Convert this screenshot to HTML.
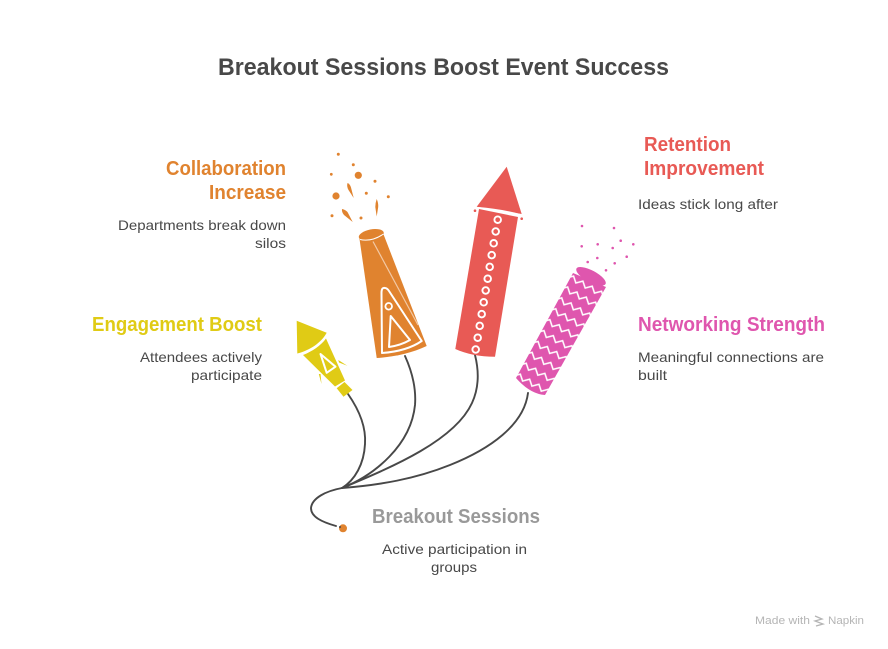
<!DOCTYPE html>
<html><head><meta charset="utf-8"><style>
html,body{margin:0;padding:0;background:#fff}
svg{display:block}
text{font-family:"Liberation Sans",sans-serif}
.t{font-size:14px;fill:#484848}
.h{font-size:20px;font-weight:bold}
</style></head><body>
<svg width="888" height="649" viewBox="0 0 888 649" xmlns="http://www.w3.org/2000/svg">
<defs>
<pattern id="zz" width="10.6" height="12.4" patternUnits="userSpaceOnUse" patternTransform="translate(589 281) rotate(28.5)">
<rect width="10.6" height="12.4" fill="#DF56AE"/>
<polyline points="-5.3,3 0,8 5.3,3 10.6,8 15.9,3" fill="none" stroke="#fff" stroke-width="1.5"/>
</pattern>
</defs>
<rect width="888" height="649" fill="#fff"/>
<text x="218" y="75" font-size="24" font-weight="bold" fill="#484848" textLength="451" lengthAdjust="spacingAndGlyphs">Breakout Sessions Boost Event Success</text>

<!-- connectors -->
<g fill="none" stroke="#484848" stroke-width="1.9" stroke-linecap="round">
<path d="M336 526C322 522 311 517 311 508C312 498 326 491 342 488"/>
<path d="M348 394C362 414 366 430 365 444C364 464 355 480 342 488"/>
<path d="M405 356C414 376 416 392 415 405C411 445 375 475 342 488"/>
<path d="M475 355C480 375 478 390 472 403C455 440 395 466 342 488"/>
<path d="M528 393C524 425 490 449 450 465C415 479 380 485 342 488"/>
</g>
<circle cx="343" cy="528.3" r="4" fill="#E0832F"/>
<circle cx="340" cy="527" r="1" fill="#484848"/>

<!-- yellow rocket -->
<g fill="#E0CB15">
<path d="M296.7 320.7L326.7 332.7C321 343 310 350 297.3 353.5Z"/>
<path d="M303 355C312 351.5 321 345.5 326 338.5L345 380.5L335 386.5Z"/>
<path d="M344.5 382L352.5 390L343.5 396.7L336.7 388.3Z"/>
</g>
<path d="M320.5 354L335.5 366.7L326.7 372.8Z" fill="none" stroke="#fff" stroke-width="2" stroke-linejoin="round"/>
<g fill="#E0CB15"><path d="M338.3 360L347.3 365.7L339 362.5Z"/><path d="M318.8 374L321.5 384L320.5 374Z"/></g>

<!-- orange rocket -->
<path d="M359.5 239L383 233L426.7 346C412 353 394 357 376.7 358Z" fill="#E0832F"/>
<path d="M373 241.5L418 325" stroke="#F2C9A5" stroke-width="1.2" fill="none"/>
<ellipse cx="371.3" cy="235" rx="12.7" ry="5.6" transform="rotate(-11 371.3 235)" fill="#E0832F"/>
<path d="M360 239.5Q372 242 383.500 234" fill="none" stroke="#fff" stroke-width="1"/>
<path d="M381.5 293Q381.5 287 385 288Q387 288 389 291L421.7 341C410 349 396 352 382 353Z" fill="none" stroke="#fff" stroke-width="2" stroke-linejoin="round"/>
<path d="M390.7 316L410 340C403 344 396 346 389 347Z" fill="none" stroke="#fff" stroke-width="2" stroke-linejoin="round"/>
<circle cx="388.7" cy="306.3" r="3.3" fill="none" stroke="#fff" stroke-width="1.8"/>
<g fill="#E0832F">
<circle cx="338.3" cy="154.3" r="1.5"/><circle cx="353.3" cy="164.7" r="1.5"/><circle cx="331.3" cy="174.3" r="1.4"/>
<circle cx="358.3" cy="175.3" r="3.6"/><circle cx="375" cy="181.3" r="1.5"/><circle cx="336" cy="196" r="3.6"/>
<circle cx="366.3" cy="193.3" r="1.5"/><circle cx="388.3" cy="196.7" r="1.5"/><circle cx="332" cy="215.7" r="1.5"/><circle cx="361" cy="218" r="1.5"/>
<path d="M347.5 183Q350 184 351 187.500L353.7 198L348.500 190Q346.500 186.500 347.500 183Z"/>
<path d="M376.7 199Q378.500 203 378.200 207L376.7 216.500L375.300 207Q375.300 203 376.7 199Z"/>
<path d="M342 209Q345 209.500 347.500 212L352.7 222L344 215Q341.500 212 342 209Z"/>
</g>

<!-- red rocket -->
<path d="M506.7 166.7L521.7 214L476.7 206.7Z" fill="#E85A55"/>
<path d="M479 209L518 217L495 356.7C480 356.7 466 354 455.3 349Z" fill="#E85A55"/>
<path d="M478.500 207.800Q500 209.500 521 215" fill="none" stroke="#fff" stroke-width="1.6"/>
<circle cx="475" cy="210.7" r="1.3" fill="#E85A55"/><circle cx="521.7" cy="218.7" r="1.3" fill="#E85A55"/>
<g fill="none" stroke="#fff" stroke-width="1.9">
<circle cx="497.7" cy="219.7" r="3.3"/><circle cx="495.7" cy="231.500" r="3.3"/><circle cx="493.7" cy="243.3" r="3.3"/><circle cx="491.7" cy="255.1" r="3.3"/>
<circle cx="489.7" cy="266.9" r="3.3"/><circle cx="487.7" cy="278.7" r="3.3"/><circle cx="485.7" cy="290.5" r="3.3"/><circle cx="483.7" cy="302.3" r="3.3"/>
<circle cx="481.7" cy="314.1" r="3.3"/><circle cx="479.7" cy="325.9" r="3.3"/><circle cx="477.7" cy="337.7" r="3.3"/><circle cx="475.7" cy="349.5" r="3.3"/>
</g>

<!-- pink rocket -->
<path d="M573 273L606 287L545 395Q530 394 516 378Z" fill="url(#zz)"/>
<ellipse cx="591" cy="276.3" rx="16.5" ry="5.8" transform="rotate(28 591 276.3)" fill="#DF56AE"/>
<g fill="#DF56AE">
<circle cx="582" cy="226" r="1.3"/><circle cx="614" cy="228" r="1.3"/><circle cx="620.7" cy="240.7" r="1.3"/><circle cx="633.3" cy="244.3" r="1.3"/>
<circle cx="597.7" cy="244.3" r="1.3"/><circle cx="581.7" cy="246.3" r="1.3"/><circle cx="612.7" cy="248" r="1.3"/><circle cx="626.7" cy="256.7" r="1.3"/>
<circle cx="597.3" cy="258" r="1.3"/><circle cx="587.7" cy="262" r="1.3"/><circle cx="614.7" cy="263.3" r="1.3"/><circle cx="606" cy="270.3" r="1.3"/>
</g>

<!-- labels -->
<text class="h" x="166" y="175" fill="#E0832F" textLength="120" lengthAdjust="spacingAndGlyphs">Collaboration</text>
<text class="h" x="209" y="199" fill="#E0832F" textLength="77" lengthAdjust="spacingAndGlyphs">Increase</text>
<text class="h" x="92" y="331" fill="#E0CB15" textLength="170" lengthAdjust="spacingAndGlyphs">Engagement Boost</text>
<text class="h" x="644" y="151" fill="#E85A55" textLength="87" lengthAdjust="spacingAndGlyphs">Retention</text>
<text class="h" x="644" y="175" fill="#E85A55" textLength="120" lengthAdjust="spacingAndGlyphs">Improvement</text>
<text class="h" x="638" y="331" fill="#DF56AE" textLength="187" lengthAdjust="spacingAndGlyphs">Networking Strength</text>
<text class="h" x="372" y="523" fill="#999999" textLength="168" lengthAdjust="spacingAndGlyphs">Breakout Sessions</text>
<text class="t" x="118" y="230" textLength="168" lengthAdjust="spacingAndGlyphs">Departments break down</text>
<text class="t" x="255" y="248" textLength="31" lengthAdjust="spacingAndGlyphs">silos</text>
<text class="t" x="140" y="362" textLength="122" lengthAdjust="spacingAndGlyphs">Attendees actively</text>
<text class="t" x="191" y="380" textLength="71" lengthAdjust="spacingAndGlyphs">participate</text>
<text class="t" x="638" y="209" textLength="140" lengthAdjust="spacingAndGlyphs">Ideas stick long after</text>
<text class="t" x="638" y="362" textLength="186" lengthAdjust="spacingAndGlyphs">Meaningful connections are</text>
<text class="t" x="638" y="380" textLength="29" lengthAdjust="spacingAndGlyphs">built</text>
<text class="t" x="382" y="554" textLength="145" lengthAdjust="spacingAndGlyphs">Active participation in</text>
<text class="t" x="431" y="572" textLength="46" lengthAdjust="spacingAndGlyphs">groups</text>

<!-- watermark -->
<text x="755" y="624" font-size="11" fill="#b5b5b5" textLength="55" lengthAdjust="spacingAndGlyphs">Made with</text>
<g stroke="#b5b5b5" stroke-width="1.3" fill="none"><path d="M815 616L822 619L815 621L823 624L816 626"/></g>
<text x="828" y="624" font-size="11" fill="#b5b5b5" textLength="36" lengthAdjust="spacingAndGlyphs">Napkin</text>
</svg>
</body></html>
